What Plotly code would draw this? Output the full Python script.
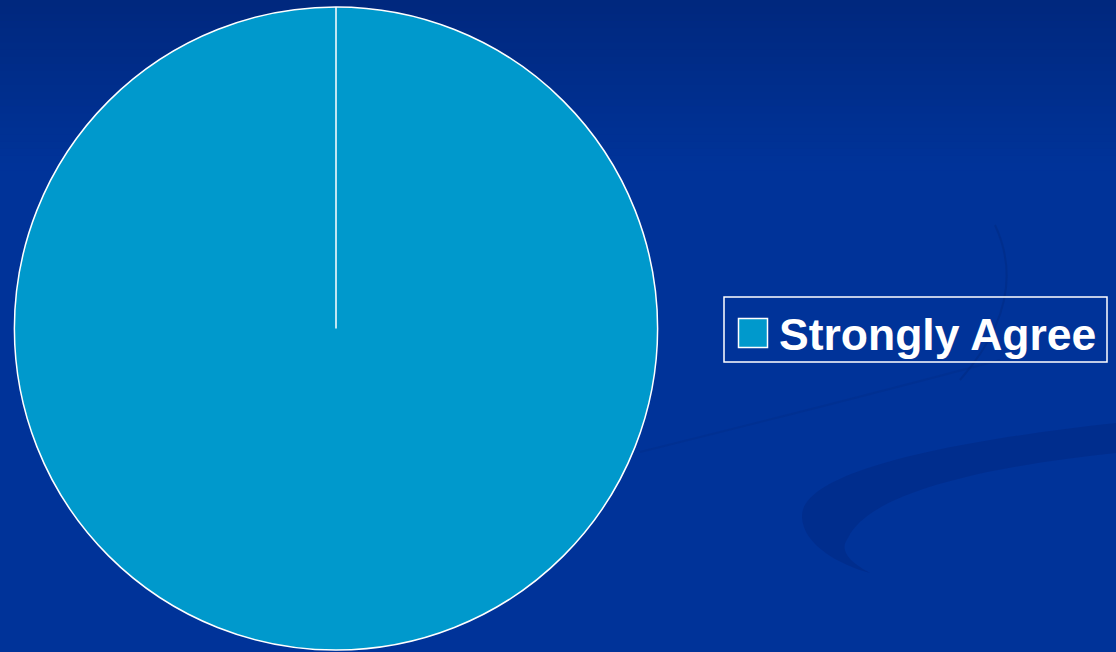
import plotly.graph_objects as go

# Survey responses
labels = ["Strongly Agree"]
values = [100]
colors = ["#0099CC"]

W, H = 1116, 652


def px(x):
    return x / W


def py(y):
    return 1 - y / H


def path_px(points):
    """Build an SVG path in paper units from pixel-space commands."""
    out = []
    for cmd, coords in points:
        pts = []
        for i in range(0, len(coords), 2):
            pts.append(f"{px(coords[i]):.5f},{py(coords[i + 1]):.5f}")
        out.append(cmd + " ".join(pts))
    return " ".join(out) + " Z"


pie_x = [px(14), px(658)]
pie_y = [py(650), py(7)]

fig = go.Figure()
fig.add_trace(go.Pie(
    labels=labels,
    values=values,
    marker=dict(colors=colors, line=dict(color="white", width=1.5)),
    sort=False,
    direction="clockwise",
    rotation=0,
    textinfo="none",
    hoverinfo="label+percent",
    domain=dict(x=pie_x, y=pie_y),
    showlegend=False,
))

shapes = []

# Background: darker band at the top fading into the main blue
top_c = (0x00, 0x28, 0x7E)
base_c = (0x00, 0x33, 0x99)
n_bands = 24
band_h = 170 / n_bands
for i in range(n_bands):
    t = i / (n_bands - 1)
    c = tuple(int(round(a + (b - a) * t)) for a, b in zip(top_c, base_c))
    shapes.append(dict(
        type="rect", xref="paper", yref="paper", layer="below",
        x0=0, x1=1, y0=py(i * band_h + band_h + 0.5), y1=py(i * band_h),
        fillcolor=f"rgb{c}", line=dict(width=0),
    ))

# Decorative swoosh on the lower right
shapes.append(dict(
    type="path", xref="paper", yref="paper", layer="below",
    path=path_px([
        ("M", [1116, 423]),
        ("C", [960, 440, 800, 470, 802, 517]),
        ("C", [803, 545, 840, 565, 870, 573]),
        ("C", [845, 560, 840, 548, 848, 538]),
        ("C", [870, 490, 1000, 465, 1116, 453]),
    ]),
    fillcolor="rgba(0,40,130,0.5)", line=dict(width=0),
))
# faint thin swoosh lines
shapes.append(dict(
    type="path", xref="paper", yref="paper", layer="below",
    path="M{:.5f},{:.5f} Q{:.5f},{:.5f} {:.5f},{:.5f}".format(
        px(640), py(452), px(850), py(400), px(1000), py(360)),
    line=dict(color="rgba(0,45,140,0.5)", width=2),
))
shapes.append(dict(
    type="path", xref="paper", yref="paper", layer="below",
    path="M{:.5f},{:.5f} Q{:.5f},{:.5f} {:.5f},{:.5f}".format(
        px(995), py(225), px(1030), py(300), px(960), py(380)),
    line=dict(color="rgba(0,42,130,0.5)", width=2),
))

# Radial slice edge from the pie centre to 12 o'clock
cx = (pie_x[0] + pie_x[1]) / 2
cy = (pie_y[0] + pie_y[1]) / 2
shapes.append(dict(
    type="line", xref="paper", yref="paper", layer="above",
    x0=cx, y0=cy, x1=cx, y1=pie_y[1],
    line=dict(color="white", width=1.5),
))

# Legend frame and swatch
shapes.append(dict(
    type="rect", xref="paper", yref="paper",
    x0=px(724), x1=px(1107), y0=py(362), y1=py(297),
    line=dict(color="white", width=1.5), fillcolor="rgba(0,0,0,0)",
))
shapes.append(dict(
    type="rect", xref="paper", yref="paper",
    x0=px(738.5), x1=px(767.5), y0=py(347.5), y1=py(318.5),
    line=dict(color="white", width=1.5), fillcolor=colors[0],
))

fig.add_annotation(
    text=labels[0], xref="paper", yref="paper",
    x=px(777), y=py(334), xanchor="left", yanchor="middle",
    showarrow=False,
    font=dict(family="Liberation Sans, Arial, sans-serif", size=44.5,
              color="white", weight="bold"),
)

fig.update_layout(
    width=W, height=H,
    margin=dict(l=0, r=0, t=0, b=0),
    paper_bgcolor="#003399",
    plot_bgcolor="#003399",
    shapes=shapes,
    showlegend=False,
)

fig.write_html("out.html", config={"displayModeBar": False})
